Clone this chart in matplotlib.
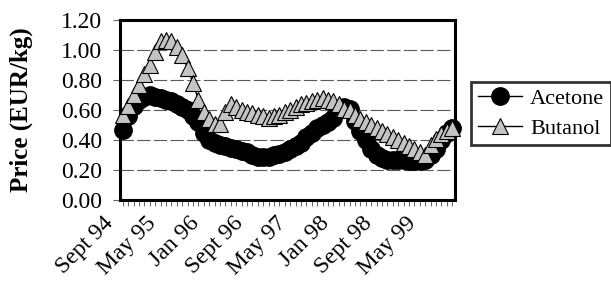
import numpy as np
import matplotlib
matplotlib.use('Agg')
import matplotlib.pyplot as plt
import matplotlib.transforms as mtransforms

# 月次価格 (EUR/kg), Sept 94 .. Oct 99
acetone = [0.47, 0.56, 0.63, 0.67, 0.69, 0.70, 0.69, 0.68, 0.67, 0.66,
           0.64, 0.62, 0.60, 0.56, 0.52, 0.45, 0.40, 0.38, 0.37, 0.36,
           0.35, 0.34, 0.33, 0.32, 0.30, 0.29, 0.29, 0.29, 0.30, 0.31,
           0.32, 0.34, 0.36, 0.38, 0.42, 0.45, 0.48, 0.50, 0.52, 0.55,
           0.61, 0.62, 0.61, 0.53, 0.46, 0.40, 0.34, 0.30, 0.28, 0.27,
           0.27, 0.27, 0.27, 0.26, 0.26, 0.26, 0.27, 0.30, 0.34, 0.40,
           0.45, 0.48]
butanol = [0.57, 0.63, 0.70, 0.77, 0.84, 0.90, 0.99, 1.06, 1.07, 1.06,
           1.02, 0.97, 0.88, 0.78, 0.67, 0.59, 0.54, 0.51, 0.51, 0.59,
           0.64, 0.62, 0.60, 0.59, 0.58, 0.57, 0.56, 0.55, 0.56, 0.57,
           0.59, 0.60, 0.62, 0.64, 0.65, 0.66, 0.67, 0.68, 0.67, 0.66,
           0.64, 0.61, 0.60, 0.57, 0.54, 0.52, 0.50, 0.48, 0.46, 0.44,
           0.42, 0.40, 0.38, 0.36, 0.34, 0.32, 0.30, 0.37, 0.41, 0.44,
           0.46, 0.48]
tick_labels = ['Sept 94', 'May 95', 'Jan 96', 'Sept 96',
               'May 97', 'Jan 98', 'Sept 98', 'May 99']
label_step = 8

plt.rcParams['font.family'] = ['Liberation Serif', 'DejaVu Serif']

fig = plt.figure(figsize=(6.11, 2.91), dpi=100)
ax = fig.add_axes([120 / 611, 1 - 200 / 291, 335 / 611, 180 / 291])

x = np.arange(len(acetone))
ax.plot(x, acetone, color='black', lw=1, marker='o', ms=12.5,
        mfc='black', mec='black', label='Acetone', zorder=3, clip_on=False)
ax.plot(x, butanol, color='black', lw=1, marker='^', ms=11,
        mfc='#c4c4c4', mec='black', mew=0.8, label='Butanol', zorder=4,
        clip_on=False)

ax.set_xlim(-0.5, len(acetone) - 0.5)
ax.set_ylim(0, 1.2)
ax.set_yticks(np.arange(0, 1.21, 0.2))
ax.set_yticklabels(['%.2f' % v for v in np.arange(0, 1.21, 0.2)])
ax.yaxis.grid(True, color='0.35', lw=0.8, ls=(0, (12, 3)))
ax.set_axisbelow(True)

ax.tick_params(axis='x', which='both', direction='out', length=4,
               width=0.7, color='0.4')
ax.tick_params(axis='y', direction='out', length=5, width=0.8,
               color='0.4', labelsize=17, pad=8)

ax.set_xticks(x[::label_step])
ax.set_xticklabels(tick_labels, rotation=45, ha='right', va='top',
                   rotation_mode='anchor', fontsize=17)
ax.set_xticks(x, minor=True)
offset = mtransforms.ScaledTranslation(-20 / 100, -2 / 100, fig.dpi_scale_trans)
for lab in ax.get_xticklabels():
    lab.set_transform(lab.get_transform() + offset)

for s in ax.spines.values():
    s.set_linewidth(2.2)
    s.set_color('black')

ax.set_ylabel('Price (EUR/kg)', fontsize=18, fontweight='bold', labelpad=20)

leg = fig.legend(loc='upper left', bbox_to_anchor=(471 / 611, 1 - 82 / 291),
                 frameon=True, fancybox=False, fontsize=16,
                 handlelength=2.0, handletextpad=0.35, labelspacing=0.4,
                 borderpad=0.3, borderaxespad=0)
leg.get_frame().set_edgecolor('black')
leg.get_frame().set_linewidth(2)

fig.savefig('out.png', dpi=100)
